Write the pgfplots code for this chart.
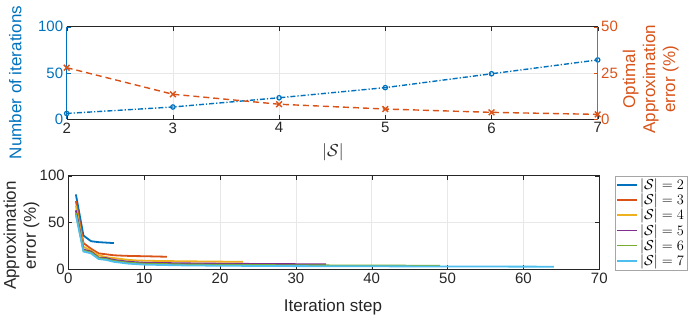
\documentclass[border=0pt]{standalone}
\usepackage{fontspec}
\setmainfont{Liberation Sans}
\usepackage{pgfplots}
\pgfplotsset{compat=1.18}

\definecolor{mblue}{rgb}{0,0.447,0.741}
\definecolor{morange}{rgb}{0.85,0.325,0.098}
\definecolor{myellow}{rgb}{0.929,0.694,0.125}
\definecolor{mpurple}{rgb}{0.494,0.184,0.556}
\definecolor{mgreen}{rgb}{0.466,0.674,0.188}
\definecolor{mcyan}{rgb}{0.301,0.745,0.933}
\definecolor{maxis}{rgb}{0.15,0.15,0.15}

\pgfplotsset{
  every axis/.append style={
    scale only axis,
    /pgf/number format/assume math mode=true,
    tick label style={font=\fontsize{15}{15}\selectfont},
    label style={font=\fontsize{17}{20}\selectfont, align=center},
    major tick length=4pt,
    grid style={gray!18, line width=0.6pt},
    axis line style={maxis, line width=0.6pt},
    tick style={maxis},
  },
  err/.style={line width=1.8pt},
}

\begin{document}
\begin{tikzpicture}
\useasboundingbox (0,0) rectangle (692pt,321pt);

% top: left axis, number of iterations
\begin{axis}[
  at={(66.7pt,202pt)}, anchor=south west,
  width=531pt, height=92.3pt,
  xmin=2, xmax=7, ymin=0, ymax=100,
  axis y line*=left,
  xtick={2,...,7}, ytick={0,50,100},
  grid=major,
  y axis line style={mblue},
  ytick style={mblue},
  yticklabel style={mblue},
  xticklabel style={maxis},
  xlabel={$|\mathcal{S}|$},
  xlabel style={at={(axis description cs:0.5015,-0.357)}, anchor=center, maxis},
  ylabel={Number of iterations},
  ylabel style={at={(axis description cs:-0.097,0.395)}, anchor=center, mblue},
]
\addplot[mblue, line width=1.4pt, dash pattern=on 5pt off 2pt on 1.2pt off 2pt,
  mark=o, mark size=2.2pt, mark options={solid, line width=1.2pt}]
  coordinates {(2,6) (3,13) (4,23) (5,34) (6,49) (7,64)};
\end{axis}

% top: right axis, optimal approximation error
\begin{axis}[
  at={(66.7pt,202pt)}, anchor=south west,
  width=531pt, height=92.3pt,
  xmin=2, xmax=7, ymin=0, ymax=50,
  axis x line=none,
  axis y line*=right,
  ytick={0,25,50},
  y axis line style={morange},
  ytick style={morange},
  yticklabel style={morange},
  ylabel={Optimal\\Approximation\\error (\%)},
  ylabel style={at={(axis description cs:1.100,0.43)}, anchor=center, morange},
]
\addplot[morange, line width=1.4pt, dash pattern=on 6pt off 4pt,
  mark=x, mark size=4pt, mark options={solid, line width=1.5pt}]
  coordinates {(2,27.8) (3,13.4) (4,8.0) (5,5.4) (6,3.6) (7,2.5)};
\end{axis}

% bottom: approximation error per iteration step
\begin{axis}[
  at={(68.3pt,51.7pt)}, anchor=south west,
  width=531pt, height=93.6pt,
  xmin=0, xmax=70, ymin=0, ymax=100,
  xtick={0,10,...,70}, ytick={0,50,100},
  grid=major,
  ticklabel style={maxis},
  xlabel={Iteration step},
  xlabel style={at={(axis description cs:0.4985,-0.403)}, anchor=center, maxis},
  ylabel={Approximation\\error (\%)},
  ylabel style={at={(axis description cs:-0.088,0.36)}, anchor=center, maxis},
  legend style={at={(axis description cs:1.0296,1.0)}, anchor=north west,
    font=\fontsize{13.5}{16}\selectfont, draw=gray!70, line width=0.6pt,
    inner sep=1pt, row sep=-1.2pt},
  legend cell align=left,
  legend image code/.code={\draw[#1, line width=1.8pt] (0pt,0pt) -- (20pt,0pt);},
]
\addplot[mblue, err] coordinates {(1,80) (2,36) (3,30) (4,29) (5,28.5) (6,28)};
\addlegendentry{$|\mathcal{S}|=2$}
\addplot[morange, err] coordinates {(1,73) (2,28) (3,22) (4,17) (5,16) (6,15) (7,14.6) (8,14.3) (9,14.1) (10,14) (11,13.8) (12,13.6) (13,13.4)};
\addlegendentry{$|\mathcal{S}|=3$}
\addplot[myellow, err] coordinates {(1,68) (2,24) (3,20) (4,15) (5,13) (6,12) (7,11) (8,10) (9,9.5) (10,9.2) (12,8.9) (15,8.6) (20,8.2) (23,8.0)};
\addlegendentry{$|\mathcal{S}|=4$}
\addplot[mpurple, err] coordinates {(1,63) (2,21) (3,19) (4,12.5) (5,12) (6,10) (7,9) (8,8) (9,7.5) (10,7) (15,6.4) (20,6.0) (25,5.7) (30,5.5) (34,5.4)};
\addlegendentry{$|\mathcal{S}|=5$}
\addplot[mgreen, err] coordinates {(1,60) (2,20) (3,18) (4,12) (5,11) (6,9) (7,8) (8,7) (10,6) (15,5.2) (20,4.8) (30,4.3) (40,4.0) (49,3.8)};
\addlegendentry{$|\mathcal{S}|=6$}
\addplot[mcyan, err] coordinates {(1,58) (2,19) (3,17) (4,11) (5,10) (6,8) (7,7) (8,6) (10,5) (15,4.2) (20,3.8) (30,3.4) (40,3.2) (50,3.0) (64,2.8)};
\addlegendentry{$|\mathcal{S}|=7$}
\end{axis}
\end{tikzpicture}
\end{document}
